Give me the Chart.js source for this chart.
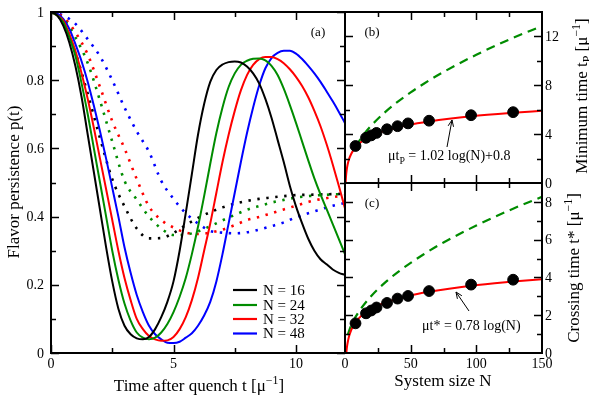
<!DOCTYPE html>
<html><head><meta charset="utf-8">
<script src="https://cdn.jsdelivr.net/npm/chart.js@4/dist/chart.umd.min.js"></script>
<style>
html,body{margin:0;padding:0;background:#fff;width:589px;height:396px;overflow:hidden}
canvas{position:absolute;left:0;top:0}
</style></head><body>
<canvas id="ca" width="589" height="396"></canvas>
<canvas id="cb" width="589" height="396"></canvas>
<canvas id="cc" width="589" height="396"></canvas>
<script>
// ---------- Panel (a): flavor persistence p(t) ----------
const timeSolid = [0,0.25,0.5,0.75,1,1.25,1.5,1.75,2,2.25,2.5,2.75,3,3.25,3.5,3.75,4,4.25,4.5,4.75,5,5.25,5.5,5.75,6,6.25,6.5,6.75,7,7.25,7.5,7.75,8,8.25,8.5,8.75,9,9.25,9.5,9.75,10,10.25,10.5,10.75,11,11.25,11.5,11.75,12];
const solidN16 = [1.0,0.99,0.96,0.91,0.84,0.75,0.64,0.53,0.42,0.31,0.21,0.13,0.08,0.055,0.043,0.04,0.047,0.07,0.105,0.15,0.21,0.30,0.41,0.525,0.64,0.73,0.795,0.83,0.846,0.853,0.855,0.852,0.84,0.82,0.79,0.745,0.69,0.625,0.56,0.49,0.43,0.38,0.335,0.30,0.275,0.26,0.245,0.235,0.229];
const solidN24 = [1.0,0.99,0.97,0.925,0.87,0.79,0.70,0.60,0.50,0.40,0.30,0.215,0.145,0.095,0.06,0.045,0.04,0.045,0.06,0.085,0.12,0.165,0.22,0.29,0.37,0.46,0.555,0.645,0.72,0.78,0.82,0.845,0.857,0.863,0.864,0.858,0.842,0.815,0.775,0.727,0.675,0.62,0.565,0.512,0.465,0.422,0.378,0.334,0.29];
const solidN32 = [1.0,0.99,0.975,0.935,0.885,0.82,0.745,0.66,0.57,0.48,0.39,0.30,0.22,0.155,0.10,0.07,0.05,0.04,0.036,0.037,0.047,0.07,0.105,0.155,0.22,0.30,0.38,0.47,0.56,0.64,0.71,0.77,0.815,0.845,0.862,0.868,0.868,0.862,0.85,0.832,0.81,0.783,0.75,0.71,0.665,0.612,0.553,0.49,0.424];
const solidN48 = [1.0,0.995,0.98,0.95,0.905,0.855,0.795,0.725,0.65,0.57,0.485,0.40,0.31,0.235,0.17,0.12,0.08,0.055,0.04,0.03,0.029,0.033,0.045,0.058,0.08,0.11,0.15,0.21,0.29,0.38,0.47,0.56,0.645,0.72,0.785,0.835,0.865,0.88,0.886,0.886,0.878,0.862,0.842,0.82,0.795,0.767,0.738,0.707,0.674];
const timeDotted = [0,0.5,1,1.5,2,2.5,3,3.5,4,4.5,5,5.5,6,6.5,7,7.5,8,8.5,9,9.5,10,10.5,11,11.5,12];
const dottedN16 = [1.0,0.97,0.88,0.76,0.63,0.51,0.43,0.365,0.336,0.337,0.352,0.375,0.396,0.413,0.427,0.438,0.446,0.452,0.456,0.46,0.463,0.464,0.465,0.466,0.467];
const dottedN24 = [1.0,0.98,0.925,0.85,0.74,0.62,0.505,0.45,0.40,0.365,0.346,0.347,0.357,0.372,0.389,0.405,0.42,0.431,0.441,0.449,0.456,0.46,0.463,0.465,0.466];
const dottedN32 = [1.0,0.985,0.94,0.875,0.78,0.68,0.60,0.51,0.43,0.39,0.368,0.353,0.349,0.353,0.362,0.375,0.39,0.399,0.41,0.421,0.432,0.443,0.451,0.457,0.462];
const dottedN48 = [1.0,0.99,0.965,0.92,0.87,0.80,0.72,0.65,0.59,0.505,0.452,0.41,0.38,0.358,0.353,0.351,0.354,0.362,0.372,0.383,0.398,0.41,0.421,0.432,0.44];
const legendLabels = ['N = 16','N = 24','N = 32','N = 48'];
const xTicksA = [0,5,10];
const yTicksA = [0,0.2,0.4,0.6,0.8,1];
const yTickTextA = ['0','0.2','0.4','0.6','0.8','1'];

// ---------- Panels (b),(c): vs system size N ----------
const sizesN = [8,16,20,24,32,40,48,64,96,128];
const minTimeTp = [3.03,3.7,3.9,4.1,4.4,4.65,4.88,5.1,5.55,5.8];
const crossTimeTs = [1.57,2.1,2.25,2.41,2.65,2.88,3.02,3.28,3.62,3.88];
const fitTpN = [0.46,0.6,0.8,1,1.5,2,3,4,6,8,12,16,24,32,48,64,96,128,150];
const fitTpVal = [0,0.28,0.57,0.8,1.21,1.51,1.92,2.21,2.63,2.92,3.33,3.63,4.04,4.33,4.75,5.04,5.46,5.75,5.91];
const sqrtTpN = [8,10,15,20,30,40,50,60,75,100,125,150];
const sqrtTpVal = [2.97,3.32,4.07,4.7,5.75,6.64,7.42,8.13,9.09,10.5,11.74,12.86];
const fitTsN = [1,1.5,2,3,4,6,8,12,16,24,32,48,64,96,128,150];
const fitTsVal = [0,0.32,0.54,0.86,1.08,1.4,1.62,1.94,2.16,2.48,2.7,3.02,3.24,3.56,3.78,3.91];
const sqrtTsN = [2,5,10,20,30,40,50,60,75,100,125,150];
const sqrtTsVal = [0.95,1.51,2.13,3.02,3.7,4.27,4.77,5.23,5.85,6.75,7.55,8.27];
const xTicksN = [0,50,100,150];
const yTicksB = [0,4,8,12];
const yTicksC = [0,2,4,6,8];

const BLACK='#000000', GREEN='#008c00', RED='#ff0000', BLUE='#0000ff';
const FONT='"Liberation Serif","Times New Roman",serif';
const zip=(xs,ys)=>xs.map((x,i)=>({x:x,y:ys[i]}));

function textW(ctx,segs,size){let w=0;for(const s of segs){ctx.font=((s.sup||s.sub)?size*0.7:size)+'px '+FONT;w+=ctx.measureText(s.t).width;}return w;}
function rich(ctx,segs,x,y,size,align,rot){
  ctx.save();ctx.translate(x,y);if(rot)ctx.rotate(rot);
  const w=textW(ctx,segs,size);
  let cx=align==='center'?-w/2:align==='right'?-w:0;
  ctx.textAlign='left';ctx.textBaseline='alphabetic';ctx.fillStyle='#000';
  for(const s of segs){const fs=(s.sup||s.sub)?size*0.7:size;ctx.font=fs+'px '+FONT;
    const dy=s.sup?-size*0.42:s.sub?size*0.25:0;ctx.fillText(s.t,cx,dy);cx+=ctx.measureText(s.t).width;}
  ctx.restore();
}
function label(ctx,t,x,y,size,align,base){ctx.save();ctx.font=size+'px '+FONT;ctx.fillStyle='#000';ctx.textAlign=align;ctx.textBaseline=base||'middle';ctx.fillText(t,x,y);ctx.restore();}
function ticksX(ctx,ch,vals,len){const a=ch.chartArea,s=ch.scales.x;ctx.beginPath();for(const v of vals){const p=Math.round(s.getPixelForValue(v))+0.5;ctx.moveTo(p,a.bottom);ctx.lineTo(p,a.bottom-len);ctx.moveTo(p,a.top);ctx.lineTo(p,a.top+len);}ctx.stroke();}
function ticksY(ctx,ch,vals,len){const a=ch.chartArea,s=ch.scales.y;ctx.beginPath();for(const v of vals){const p=Math.round(s.getPixelForValue(v))+0.5;ctx.moveTo(a.left,p);ctx.lineTo(a.left+len,p);ctx.moveTo(a.right,p);ctx.lineTo(a.right-len,p);}ctx.stroke();}
function frame(ctx,ch){const a=ch.chartArea;ctx.save();ctx.strokeStyle='#000';ctx.lineWidth=2;ctx.strokeRect(a.left,a.top,a.right-a.left,a.bottom-a.top);ctx.restore();}
function arrow(ctx,x1,y1,x2,y2){ctx.save();ctx.strokeStyle='#000';ctx.lineWidth=1;ctx.beginPath();ctx.moveTo(x1,y1);ctx.lineTo(x2,y2);
  const ang=Math.atan2(y2-y1,x2-x1),L=7,W=0.4;ctx.moveTo(x2-L*Math.cos(ang-W),y2-L*Math.sin(ang-W));ctx.lineTo(x2,y2);ctx.lineTo(x2-L*Math.cos(ang+W),y2-L*Math.sin(ang+W));ctx.stroke();ctx.restore();}

function mk(id,pad,xr,yr,datasets,deco){
  return new Chart(document.getElementById(id),{type:'line',data:{datasets:datasets},
    options:{responsive:false,animation:false,devicePixelRatio:1,events:[],layout:{padding:pad},
      plugins:{legend:{display:false},tooltip:{enabled:false},title:{display:false}},
      scales:{x:{type:'linear',min:xr[0],max:xr[1],display:false},y:{type:'linear',min:yr[0],max:yr[1],display:false}},
      elements:{point:{radius:0},line:{cubicInterpolationMode:'monotone',tension:0.4}}},
    plugins:[{id:'deco',afterDraw(ch){deco(ch,ch.ctx);}}]});
}
const solid=(d,c)=>({data:d,borderColor:c,borderWidth:2,pointRadius:0,fill:false});
const dotted=(d,c)=>({data:d,borderColor:c,borderWidth:2.6,borderDash:[2.4,6.6],pointRadius:0,fill:false});

// Panel (a)
mk('ca',{left:51,top:12,right:244,bottom:43},[0,12],[0,1],[
  solid(zip(timeSolid,solidN16),BLACK),solid(zip(timeSolid,solidN24),GREEN),solid(zip(timeSolid,solidN32),RED),solid(zip(timeSolid,solidN48),BLUE),
  dotted(zip(timeDotted,dottedN16),BLACK),dotted(zip(timeDotted,dottedN24),GREEN),dotted(zip(timeDotted,dottedN32),RED),dotted(zip(timeDotted,dottedN48),BLUE)
],(ch,ctx)=>{
  const a=ch.chartArea,sx=ch.scales.x,sy=ch.scales.y;
  ctx.save();ctx.strokeStyle='#000';ctx.lineWidth=1.5;
  ticksX(ctx,ch,[0,5,10],8);ticksX(ctx,ch,[2.5,7.5],5);
  ticksY(ctx,ch,[0,0.2,0.4,0.6,0.8,1],8);ticksY(ctx,ch,[0.1,0.3,0.5,0.7,0.9],5);
  ctx.restore();frame(ctx,ch);
  yTicksA.forEach((v,i)=>label(ctx,yTickTextA[i],44,sy.getPixelForValue(v)+1,14,'right'));
  xTicksA.forEach(v=>label(ctx,String(v),sx.getPixelForValue(v),364,14,'center'));
  rich(ctx,[{t:'Time after quench t [μ'},{t:'−1',sup:true},{t:']'}],199,391,17,'center');
  rich(ctx,[{t:'Flavor persistence p(t)'}],19,182,17,'center',-Math.PI/2);
  label(ctx,'(a)',318,36,13,'center','alphabetic');
  const cols=[BLACK,GREEN,RED,BLUE],ys=[290,305,319,333.5];
  cols.forEach((c,i)=>{ctx.save();ctx.strokeStyle=c;ctx.lineWidth=2.2;ctx.beginPath();ctx.moveTo(233,ys[i]);ctx.lineTo(257,ys[i]);ctx.stroke();ctx.restore();
    label(ctx,legendLabels[i],263,ys[i]+1,15,'left');});
});

// Panel (b)
mk('cb',{left:345,top:12,right:47,bottom:213},[0,150],[0,14],[
  {data:zip(sizesN,minTimeTp),showLine:false,pointRadius:5.4,pointBackgroundColor:BLACK,pointBorderColor:BLACK,borderColor:BLACK},
  solid(zip(fitTpN,fitTpVal),RED),
  {data:zip(sqrtTpN,sqrtTpVal),borderColor:GREEN,borderWidth:2.2,borderDash:[9,6],pointRadius:0,fill:false}
],(ch,ctx)=>{
  const sy=ch.scales.y;
  ctx.save();ctx.strokeStyle='#000';ctx.lineWidth=1.5;
  ticksX(ctx,ch,[50,100],8);ticksX(ctx,ch,[25,75,125],5);
  ticksY(ctx,ch,[4,8,12],8);ticksY(ctx,ch,[2,6,10],5);
  ctx.restore();frame(ctx,ch);
  yTicksB.forEach(v=>label(ctx,String(v),545,sy.getPixelForValue(v)+1,14,'left'));
  rich(ctx,[{t:'Minimum time t'},{t:'P',sub:true},{t:' [μ'},{t:'−1',sup:true},{t:']'}],587,96,17,'center',-Math.PI/2);
  label(ctx,'(b)',372,36,13,'center','alphabetic');
  rich(ctx,[{t:'μt'},{t:'P',sub:true},{t:' = 1.02 log(N)+0.8'}],388,160,14,'left');
  arrow(ctx,447,147,452,120);
});

// Panel (c)
mk('cc',{left:345,top:183,right:47,bottom:43},[0,150],[0,9],[
  {data:zip(sizesN,crossTimeTs),showLine:false,pointRadius:5.4,pointBackgroundColor:BLACK,pointBorderColor:BLACK,borderColor:BLACK},
  solid(zip(fitTsN,fitTsVal),RED),
  {data:zip(sqrtTsN,sqrtTsVal),borderColor:GREEN,borderWidth:2.2,borderDash:[9,6],pointRadius:0,fill:false}
],(ch,ctx)=>{
  const sx=ch.scales.x,sy=ch.scales.y;
  ctx.save();ctx.strokeStyle='#000';ctx.lineWidth=1.5;
  ticksX(ctx,ch,[50,100],8);ticksX(ctx,ch,[25,75,125],5);
  ticksY(ctx,ch,[2,4,6,8],8);ticksY(ctx,ch,[1,3,5,7],5);
  ctx.restore();frame(ctx,ch);
  yTicksC.forEach(v=>label(ctx,String(v),545,sy.getPixelForValue(v)+1,14,'left'));
  xTicksN.forEach(v=>label(ctx,String(v),sx.getPixelForValue(v),364,14,'center'));
  rich(ctx,[{t:'System size N'}],443,386,17,'center');
  rich(ctx,[{t:'Crossing time t* [μ'},{t:'−1',sup:true},{t:']'}],579,268,17,'center',-Math.PI/2);
  label(ctx,'(c)',372,207,13,'center','alphabetic');
  rich(ctx,[{t:'μt* = 0.78 log(N)'}],422,330,14,'left');
  arrow(ctx,469,311,456,292);
});
</script></body></html>
